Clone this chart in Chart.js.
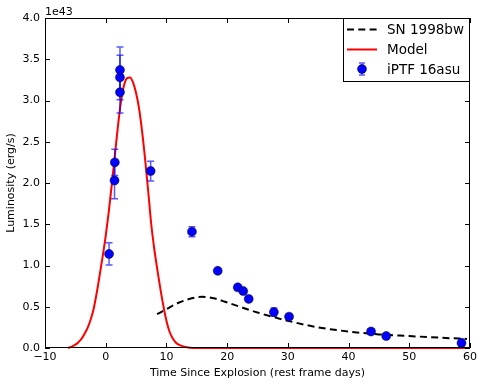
<!DOCTYPE html>
<html><head><meta charset="utf-8">
<script src="https://cdn.jsdelivr.net/npm/chart.js@4.4.0/dist/chart.umd.min.js"></script>
<style>html,body{margin:0;padding:0;background:#fff;} #wrap{width:485px;height:386px;}</style>
</head><body><div id="wrap"><canvas id="c" width="485" height="386"></canvas></div>
<script>
// Observed iPTF 16asu (luminosity in units of 1e43 erg/s)
const obsDays = [0.55, 1.45, 1.5, 2.35, 2.35, 2.35, 7.4, 14.2, 18.45, 21.75, 22.65, 23.55, 27.7, 30.2, 43.7, 46.2, 58.6];
const obsLum  = [1.14, 2.03, 2.25, 3.10, 3.28, 3.37, 2.145, 1.41, 0.935, 0.735, 0.69, 0.595, 0.435, 0.38, 0.20, 0.145, 0.06];
const obsErr  = [0.135, 0.22, 0.16, 0.25, 0.27, 0.28, 0.12, 0.06, 0.03, 0.03, 0.03, 0.03, 0.05, 0.03, 0.03, 0.02, 0.05];
// SN 1998bw comparison curve
const snDays = [8.45, 10.0, 11.9, 13.6, 15.9, 18.0, 19.65, 21.3, 22.1, 25.0, 30.0, 35.0, 40.0, 45.0, 50.0, 55.0, 59.5];
const snLum  = [0.41, 0.47, 0.545, 0.59, 0.62, 0.60, 0.56, 0.52, 0.50, 0.43, 0.33, 0.25, 0.20, 0.165, 0.145, 0.125, 0.11];
// Model curve
const modelDays = [-6.2, -5.5, -5.0, -4.5, -4.0, -3.5, -3.0, -2.5, -2.0, -1.5, -1.0, -0.5, 0.0, 0.5, 1.0, 1.5, 2.0, 2.5, 3.0, 3.5, 4.0, 4.5, 5.0, 5.5, 6.0, 6.5, 7.0, 7.5, 8.0, 8.5, 9.0, 9.5, 10.0, 10.5, 11.0, 11.5, 12.0, 13.0, 14.5, 20, 30, 40, 50, 60];
const modelLum  = [0.0, 0.02, 0.04, 0.07, 0.11, 0.17, 0.24, 0.34, 0.47, 0.66, 0.88, 1.11, 1.36, 1.65, 1.98, 2.33, 2.68, 2.98, 3.18, 3.27, 3.28, 3.22, 3.09, 2.90, 2.62, 2.28, 1.90, 1.50, 1.20, 0.95, 0.72, 0.51, 0.33, 0.20, 0.12, 0.07, 0.04, 0.015, 0.0, 0, 0, 0, 0, 0];
const xTicks = [-10, 0, 10, 20, 30, 40, 50, 60];
const yTicks = [0, 0.5, 1.0, 1.5, 2.0, 2.5, 3.0, 3.5, 4.0];
const seriesNames = ['iPTF 16asu', 'Model', 'SN 1998bw'];
const FONT = "'DejaVu Sans', sans-serif";

const toXY = (xs, ys) => xs.map((v, i) => ({x: v, y: ys[i]}));

const errorBars = {
  id: 'errorBars',
  beforeDatasetDraw(chart, args) {
    if (args.index !== 0) return;
    const {ctx, chartArea: a, scales: {x, y}} = chart;
    ctx.save();
    ctx.beginPath(); ctx.rect(a.left, a.top, a.right - a.left, a.bottom - a.top); ctx.clip();
    ctx.strokeStyle = 'rgba(0,0,255,0.65)';
    ctx.lineWidth = 1.5;
    obsDays.forEach((d, i) => {
      const px = x.getPixelForValue(d);
      const y1 = y.getPixelForValue(obsLum[i] - obsErr[i]);
      const y2 = y.getPixelForValue(obsLum[i] + obsErr[i]);
      ctx.beginPath();
      ctx.moveTo(px, y1); ctx.lineTo(px, y2);
      ctx.moveTo(px - 3.5, y1); ctx.lineTo(px + 3.5, y1);
      ctx.moveTo(px - 3.5, y2); ctx.lineTo(px + 3.5, y2);
      ctx.stroke();
    });
    ctx.restore();
  }
};

const frame = {
  id: 'frame',
  afterDraw(chart) {
    const {ctx, chartArea: a, scales: {x, y}} = chart;
    ctx.save();
    ctx.strokeStyle = '#000'; ctx.lineWidth = 1;
    ctx.beginPath();
    ctx.rect(Math.round(a.left) + 0.5, Math.round(a.top) + 0.5, Math.round(a.right - a.left) - 1, Math.round(a.bottom - a.top) - 1);
    ctx.stroke();
    const L = 5;
    ctx.beginPath();
    xTicks.forEach(v => {
      const px = Math.round(x.getPixelForValue(v)) + 0.5;
      ctx.moveTo(px, a.bottom); ctx.lineTo(px, a.bottom - L);
      ctx.moveTo(px, a.top); ctx.lineTo(px, a.top + L);
    });
    yTicks.forEach(v => {
      const py = Math.round(y.getPixelForValue(v)) + 0.5;
      ctx.moveTo(a.left, py); ctx.lineTo(a.left + L, py);
      ctx.moveTo(a.right, py); ctx.lineTo(a.right - L, py);
    });
    ctx.stroke();
    // offset text
    ctx.fillStyle = '#000';
    ctx.font = '11px ' + FONT;
    ctx.textBaseline = 'middle'; ctx.textAlign = 'left';
    ctx.fillText('1e43', a.left, 12);

    // legend
    const bx = 343.5, by = Math.round(a.top) + 0.5, bw = Math.round(a.right) - 0.5 - 343.5, bh = 63;
    ctx.fillStyle = '#fff';
    ctx.fillRect(bx, by, bw, bh);
    ctx.strokeStyle = '#000'; ctx.lineWidth = 1;
    ctx.strokeRect(bx, by, bw, bh);
    const rows = [29.5, 49.5, 69];
    const ds = chart.data.datasets;
    const order = [2, 1, 0];
    order.forEach((di, r) => {
      const d = ds[di];
      const yy = rows[r];
      ctx.save();
      if (di === 0) {
        ctx.strokeStyle = 'rgba(0,0,255,0.65)'; ctx.lineWidth = 1.5;
        ctx.beginPath();
        ctx.moveTo(362, yy - 6); ctx.lineTo(362, yy + 6);
        ctx.moveTo(359, yy - 6); ctx.lineTo(365, yy - 6);
        ctx.moveTo(359, yy + 6); ctx.lineTo(365, yy + 6);
        ctx.stroke();
        ctx.fillStyle = '#0000ff'; ctx.strokeStyle = '#000'; ctx.lineWidth = 0.5;
        ctx.beginPath(); ctx.arc(362, yy, 4.5, 0, Math.PI * 2); ctx.fill(); ctx.stroke();
      } else {
        ctx.strokeStyle = d.borderColor; ctx.lineWidth = d.borderWidth;
        ctx.setLineDash(d.borderDash || []);
        ctx.beginPath(); ctx.moveTo(347, yy); ctx.lineTo(377, yy); ctx.stroke();
      }
      ctx.restore();
      ctx.fillStyle = '#000';
      ctx.font = '13.5px ' + FONT;
      ctx.textBaseline = 'middle'; ctx.textAlign = 'left';
      ctx.fillText(d.label, 387, yy + 1);
    });
    ctx.restore();
  }
};

new Chart(document.getElementById('c'), {
  type: 'scatter',
  data: {
    datasets: [
      {label: seriesNames[0], data: toXY(obsDays, obsLum), showLine: false, pointRadius: 4.5,
       pointHoverRadius: 4.5, backgroundColor: '#0000ff', borderColor: '#000', borderWidth: 0.5, order: 0, clip: 6},
      {label: seriesNames[1], data: toXY(modelDays, modelLum), showLine: true, pointRadius: 0, borderColor: '#ff0000',
       borderWidth: 2, cubicInterpolationMode: 'monotone', order: 1, clip: 2},
      {label: seriesNames[2], data: toXY(snDays, snLum), showLine: true, pointRadius: 0, borderColor: '#000',
       borderWidth: 2, borderDash: [7, 4.3], cubicInterpolationMode: 'monotone', order: 2}
    ]
  },
  options: {
    responsive: false, animation: false, devicePixelRatio: 1,
    layout: {padding: {top: 18, right: 15, left: 0, bottom: 0}},
    plugins: {legend: {display: false}, tooltip: {enabled: false}},
    scales: {
      x: {
        type: 'linear', min: -10, max: 60,
        afterBuildTicks: s => { s.ticks = xTicks.map(v => ({value: v})); },
        afterFit: s => { s.height = 38; },
        grid: {display: false, drawTicks: false},
        border: {display: false},
        ticks: {color: '#000', font: {family: FONT, size: 11}, padding: 3, maxRotation: 0,
                callback: v => String(v).replace('-', '\u2212')},
        title: {display: true, text: 'Time Since Explosion (rest frame days)', color: '#000',
                font: {family: FONT, size: 11}, padding: {top: 0, bottom: 6}}
      },
      y: {
        type: 'linear', min: 0, max: 4,
        afterBuildTicks: s => { s.ticks = yTicks.map(v => ({value: v})); },
        afterFit: s => { s.width = 45; },
        grid: {display: false, drawTicks: false},
        border: {display: false},
        ticks: {color: '#000', font: {family: FONT, size: 11}, padding: 5,
                callback: v => Number(v).toFixed(1)},
        title: {display: true, text: 'Luminosity (erg/s)', color: '#000',
                font: {family: FONT, size: 11}, padding: {top: 5, bottom: 0}}
      }
    }
  },
  plugins: [errorBars, frame]
});
</script></body></html>
